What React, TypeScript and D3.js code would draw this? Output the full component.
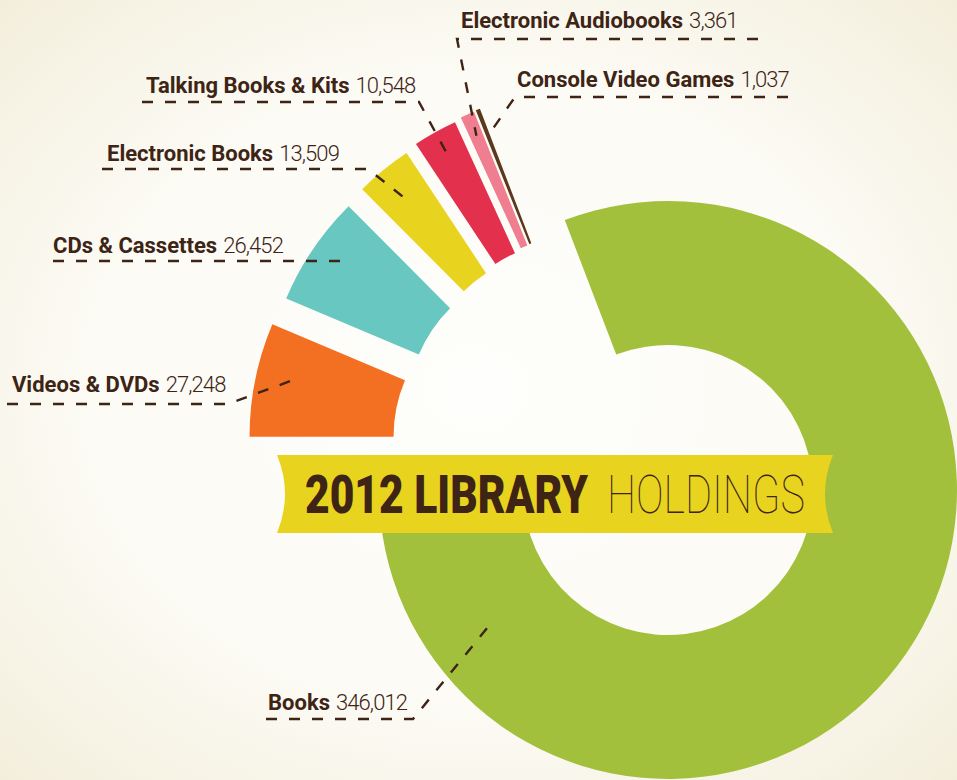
import React, { useLayoutEffect, useRef, useState } from "react";
import * as d3 from "d3";

// ---------- data ----------
const categories = [
  "Videos & DVDs",
  "CDs & Cassettes",
  "Electronic Books",
  "Talking Books & Kits",
  "Electronic Audiobooks",
  "Console Video Games",
  "Books",
];
const values = [27248, 26452, 13509, 10548, 3361, 1037, 346012];
const colors = ["#f36f22", "#68c7c1", "#e8d31f", "#e3304d", "#ef7e91", "#5b391d", "#a2c03c"];
const titleBold = "2012 LIBRARY";
const titleLight = "HOLDINGS";

// ---------- layout ----------
const W = 957;
const H = 780;
const CX = 668;
const CY = 490;
const R_IN = 145;
const R_OUT = 289;
const EXPLODE = 140;
const INK = "#3d2415";

const labelX = [12, 53, 107, 146, 461, 517, 268];
const labelY = [392, 253, 161, 93, 28, 87, 710];
const lineY = [404, 261, 169, 102, 39, 97, 719];
const lineX0 = [7, 53, 102, 142, 457, 515, 266];
const lineX1 = [228, 351, 368, 419, 758, 788, 413];
const leaderFrom = ["end", "none", "end", "end", "start", "start", "end"];
const leaderT = [0.6, 0.5, 0.5, 0.5, 0.5, 0.5, 0.873];
const leaderR = [247, 250, 248, 256, 266, 261, 221];

const titleBoldX = 305;
const titleBoldW = 283;
const titleLightX = 607;
const titleLightW = 198;
const titleY = 513;

export default function App() {
  const boldRef = useRef<SVGTextElement>(null);
  const lightRef = useRef<SVGTextElement>(null);
  const [scales, setScales] = useState<[number, number]>([1, 1]);

  useLayoutEffect(() => {
    const b = boldRef.current ? boldRef.current.getComputedTextLength() : 0;
    const l = lightRef.current ? lightRef.current.getComputedTextLength() : 0;
    if (b > 0 && l > 0) setScales([titleBoldW / b, titleLightW / l]);
  }, []);

  const fmt = d3.format(",");
  const pie = d3
    .pie<number>()
    .sort(null)
    .value((d) => d)
    .startAngle(-Math.PI / 2)
    .endAngle(1.5 * Math.PI);
  const arcs = pie(values);
  const arcGen = d3.arc<d3.PieArcDatum<number>>().innerRadius(R_IN).outerRadius(R_OUT);
  const mainIdx = values.length - 1;

  const offsets = arcs.map((a, i) => {
    if (i === mainIdx) return [0, 0];
    const bis = (a.startAngle + a.endAngle) / 2;
    const th = 0.53 * bis - (26 * Math.PI) / 180;
    return [EXPLODE * Math.sin(th), -EXPLODE * Math.cos(th)];
  });

  const leaders = arcs.map((a, i) => {
    const y = lineY[i];
    if (leaderFrom[i] === "none") return [[lineX0[i], y], [lineX1[i], y]];
    const ang = a.startAngle + leaderT[i] * (a.endAngle - a.startAngle);
    const tx = CX + offsets[i][0] + leaderR[i] * Math.sin(ang);
    const ty = CY + offsets[i][1] - leaderR[i] * Math.cos(ang);
    if (leaderFrom[i] === "end") return [[lineX0[i], y], [lineX1[i], y], [tx, ty]];
    return [[lineX1[i], y], [lineX0[i], y], [tx, ty]];
  });
  const line = d3.line();

  const bx0 = 277, bx1 = 833, by0 = 455, by1 = 533, notch = 16;
  const bym = (by0 + by1) / 2;
  const banner = `M${bx0},${by0} L${bx1},${by0} Q${bx1 - notch},${bym} ${bx1},${by1} L${bx0},${by1} Q${bx0 + notch},${bym} ${bx0},${by0} Z`;

  return (
    <svg
      width={W}
      height={H}
      style={{ position: "absolute", left: 0, top: 0 }}
      fontFamily="Roboto, 'Open Sans', sans-serif"
    >
      <defs>
        <radialGradient id="bg" cx="50%" cy="50%" r="72%">
          <stop offset="0%" stopColor="#fefefc" />
          <stop offset="55%" stopColor="#fcfbf5" />
          <stop offset="100%" stopColor="#f3eedb" />
        </radialGradient>
      </defs>
      <rect width={W} height={H} fill="url(#bg)" />

      {arcs.map((a, i) => (
        <path
          key={categories[i]}
          d={arcGen(a) || ""}
          transform={`translate(${CX + offsets[i][0]},${CY + offsets[i][1]})`}
          fill={colors[i]}
        />
      ))}

      <path d={banner} fill="#e8d31f" />
      <g transform={`translate(${titleBoldX},${titleY}) scale(${scales[0]},1)`}>
        <text ref={boldRef} x={0} y={0} fontSize={53} fill={INK} fontWeight={900}>
          {titleBold}
        </text>
      </g>
      <g transform={`translate(${titleLightX},${titleY}) scale(${scales[1]},1)`}>
        <text ref={lightRef} x={0} y={0} fontSize={53} fill={INK} fontWeight={100}>
          {titleLight}
        </text>
      </g>

      {categories.map((c, i) => (
        <text key={c} x={labelX[i]} y={labelY[i]} fontSize={22} fill={INK}>
          <tspan fontWeight={700}>{c}</tspan>
          <tspan fontWeight={300} dx={6} letterSpacing={-0.9}>
            {fmt(values[i])}
          </tspan>
        </text>
      ))}

      {leaders.map((pts, i) => (
        <path
          key={"l" + i}
          d={line(pts as [number, number][]) || ""}
          fill="none"
          stroke={INK}
          strokeWidth={2.4}
          strokeDasharray="11 12"
        />
      ))}
    </svg>
  );
}
